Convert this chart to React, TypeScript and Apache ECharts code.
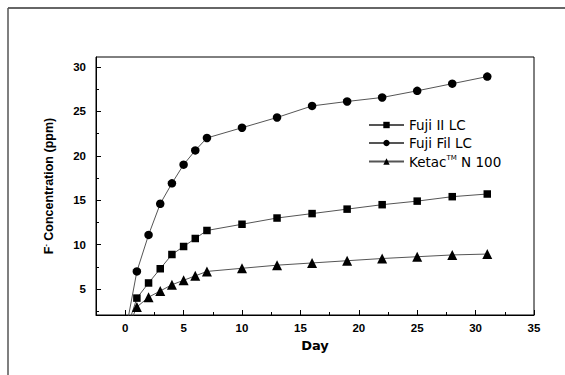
import React, { useEffect, useRef } from "react";
import * as echarts from "echarts";

const days = [1, 2, 3, 4, 5, 6, 7, 10, 13, 16, 19, 22, 25, 28, 31];
const fujiIILC = [4.0, 5.7, 7.3, 8.9, 9.8, 10.7, 11.6, 12.3, 13.0, 13.5, 14.0, 14.5, 14.9, 15.4, 15.7];
const fujiFilLC = [7.0, 11.1, 14.6, 16.9, 19.0, 20.6, 22.0, 23.15, 24.3, 25.6, 26.1, 26.55, 27.3, 28.1, 28.9];
const ketacN100 = [3.0, 4.1, 4.8, 5.5, 6.0, 6.5, 7.0, 7.35, 7.7, 7.95, 8.2, 8.45, 8.65, 8.85, 8.95];
const xMajorTicks = [0, 5, 10, 15, 20, 25, 30, 35];
const xMinorTicks = [2.5, 7.5, 12.5, 17.5, 22.5, 27.5, 32.5];
const yMajorTicks = [5, 10, 15, 20, 25, 30];
const yMinorTicks = [2.5, 7.5, 12.5, 17.5, 22.5, 27.5];

const seriesDefs = [
  { name: "Fuji II LC", values: fujiIILC, symbol: "rect", size: 7.5 },
  { name: "Fuji Fil LC", values: fujiFilLC, symbol: "circle", size: 8.5 },
  { name: "Ketac N 100", values: ketacN100, symbol: "triangle", size: 10 },
];

export default function App() {
  const ref = useRef<HTMLDivElement>(null);
  useEffect(() => {
    if (!ref.current) return;
    const chart = echarts.init(ref.current, null, { renderer: "svg" });
    const tickFont = { fontFamily: "Liberation Sans", fontSize: 11.5, fontWeight: "bold", color: "#000" };
    chart.setOption({
      animation: false,
      backgroundColor: "#fff",
      graphic: [
        { type: "line", shape: { x1: 8, y1: 8, x2: 565, y2: 8 }, style: { stroke: "#333", lineWidth: 1.5 } },
        { type: "line", shape: { x1: 8, y1: 8, x2: 8, y2: 375 }, style: { stroke: "#555", lineWidth: 1.5 } },
      ],
      grid: { left: 96, top: 57, right: 31, bottom: 60, show: true, borderColor: "#000", borderWidth: 1, backgroundColor: "transparent" },
      legend: {
        orient: "vertical",
        left: 363,
        top: 113,
        itemWidth: 35,
        itemHeight: 8,
        itemGap: 4,
        data: seriesDefs.map((s) => s.name),
        formatter: (n: string) => (n === "Ketac N 100" ? "Ketac{sup|TM} N 100" : n),
        textStyle: {
          fontFamily: "DejaVu Sans",
          fontSize: 13.5,
          color: "#000",
          rich: { sup: { fontFamily: "DejaVu Sans", fontSize: 7, verticalAlign: "top", padding: [0, 0, 8, 0], color: "#000" } },
        },
      },
      xAxis: [
        {
          type: "value",
          min: -2.5,
          max: 35,
          name: "Day",
          nameLocation: "middle",
          nameGap: 24,
          nameTextStyle: { fontFamily: "DejaVu Sans", fontWeight: "bold", fontSize: 13, color: "#000" },
          axisLine: { onZero: false, lineStyle: { color: "#000", width: 1 } },
          axisTick: { inside: true, length: 5, customValues: xMajorTicks, lineStyle: { color: "#000" } },
          axisLabel: { customValues: xMajorTicks, margin: 7, ...tickFont },
          splitLine: { show: false },
        },
        {
          type: "value",
          min: -2.5,
          max: 35,
          position: "bottom",
          axisLine: { show: false, onZero: false },
          axisTick: { inside: true, length: 3, customValues: xMinorTicks, lineStyle: { color: "#000" } },
          axisLabel: { show: false },
          splitLine: { show: false },
        },
      ],
      yAxis: [
        {
          type: "value",
          min: 2.1,
          max: 31.1,
          name: "F{sup|-} Concentration (ppm)",
          nameLocation: "middle",
          nameGap: 40,
          nameRotate: 90,
          nameTextStyle: {
            fontFamily: "Liberation Sans",
            fontWeight: "bold",
            fontSize: 12.5,
            color: "#000",
            rich: { sup: { fontFamily: "Liberation Sans", fontWeight: "bold", fontSize: 7, verticalAlign: "top", padding: [0, 0, 7, 0], color: "#000" } },
          },
          axisLine: { show: true, onZero: false, lineStyle: { color: "#000", width: 1 } },
          axisTick: { show: true, inside: true, length: 5, customValues: yMajorTicks, lineStyle: { color: "#000" } },
          axisLabel: { customValues: yMajorTicks, margin: 10, ...tickFont },
          splitLine: { show: false },
        },
        {
          type: "value",
          min: 2.1,
          max: 31.1,
          position: "left",
          axisLine: { show: false, onZero: false },
          axisTick: { show: true, inside: true, length: 3, customValues: yMinorTicks, lineStyle: { color: "#000" } },
          axisLabel: { show: false },
          splitLine: { show: false },
        },
      ],
      series: seriesDefs.map((s) => ({
        type: "line",
        name: s.name,
        xAxisIndex: 0,
        yAxisIndex: 0,
        clip: true,
        symbol: s.symbol,
        symbolSize: s.size,
        lineStyle: { color: "#555", width: 1 },
        itemStyle: { color: "#000" },
        data: [{ value: [0, 0], symbol: "none" }, ...days.map((d, i) => [d, s.values[i]])],
      })),
    });
    return () => chart.dispose();
  }, []);
  return <div ref={ref} style={{ position: "absolute", left: 0, top: 0, width: 565, height: 375 }} />;
}
